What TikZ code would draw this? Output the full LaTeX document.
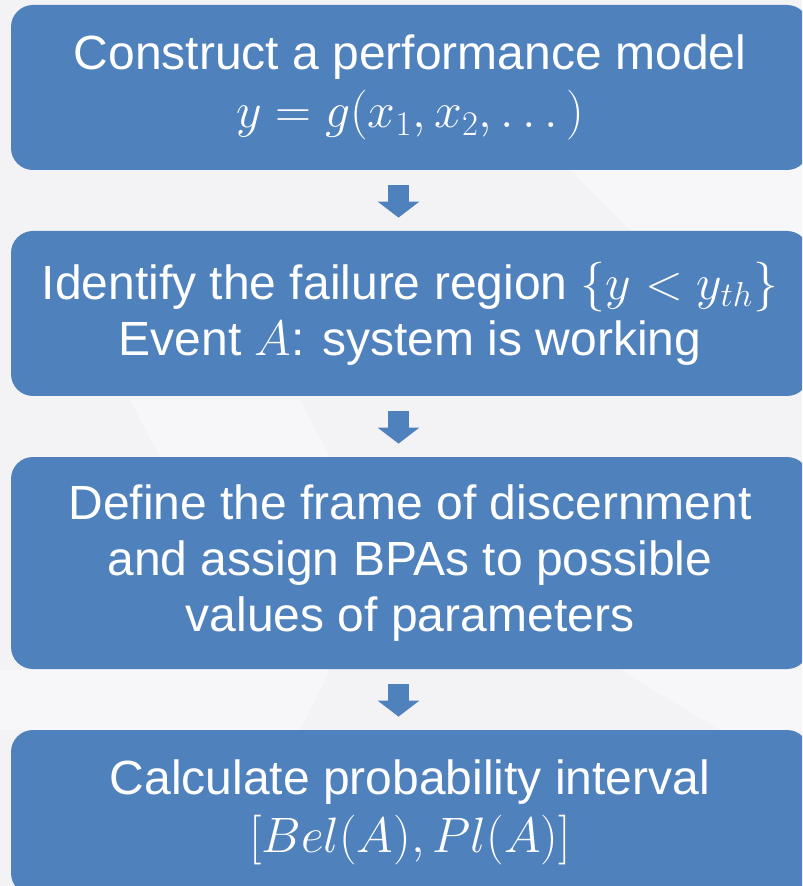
\documentclass[tikz,border=0pt]{standalone}
\usepackage[no-math]{fontspec}
\setmainfont{Liberation Sans}
\usetikzlibrary{arrows.meta}
\definecolor{boxblue}{HTML}{4F81BD}
\definecolor{paper}{HTML}{F3F3F5}
\definecolor{paperlight}{HTML}{F7F7F9}
\tikzset{
  stepbox/.style={rectangle, rounded corners=11pt, fill=boxblue, text=white,
    align=center, inner sep=0pt, minimum width=399pt,
    font=\fontsize{24}{28}\selectfont},
  blockarrow/.style={draw=boxblue, line width=10.5pt,
    -{Triangle[width=20.5pt,length=8pt]}, shorten <=7.5pt, shorten >=6.5pt}
}
\begin{document}
\begin{tikzpicture}[x=0.5pt,y=-0.5pt]
\useasboundingbox (0,0) rectangle (802,886);
\clip (0,0) rectangle (802,886);
% paper with faint light sweeps
\fill[paper] (0,0) rectangle (802,886);
\fill[paperlight] (570,170) -- (802,120) -- (802,240) -- (640,240) -- cycle;
\fill[paperlight] (0,670) -- (330,670) -- (300,730) -- (0,730) -- cycle;
\fill[paperlight] (620,670) -- (802,670) -- (802,730) -- (720,730) -- cycle;
\fill[paperlight] (130,400) -- (300,400) -- (330,457) -- (160,457) -- cycle;

% process steps
\node[stepbox, minimum height=82.5pt] (model) at (410,87.5)
  {Construct a performance model\\[1pt]$y=g(x_1,x_2,\ldots\,)$};
\node[stepbox, minimum height=82.5pt] (region) at (410,313.5)
  {Identify the failure region $\{y<y_{th}\}$\\Event $A$: system is working};
\node[stepbox, minimum height=106pt] (frame) at (410,563)
  {Define the frame of discernment\\and assign BPAs to possible\\values of parameters};
\node[stepbox, minimum height=82.5pt] (interval) at (410,812.5)
  {Calculate probability interval\\[1pt]$[Bel(A),Pl(A)]$};

% block arrows between the steps
\coordinate (ax) at (398.5,0);
\draw[blockarrow] (model.south -| ax) -- (region.north -| ax);
\draw[blockarrow] (region.south -| ax) -- (frame.north -| ax);
\draw[blockarrow] (frame.south -| ax) -- (interval.north -| ax);
\end{tikzpicture}
\end{document}
